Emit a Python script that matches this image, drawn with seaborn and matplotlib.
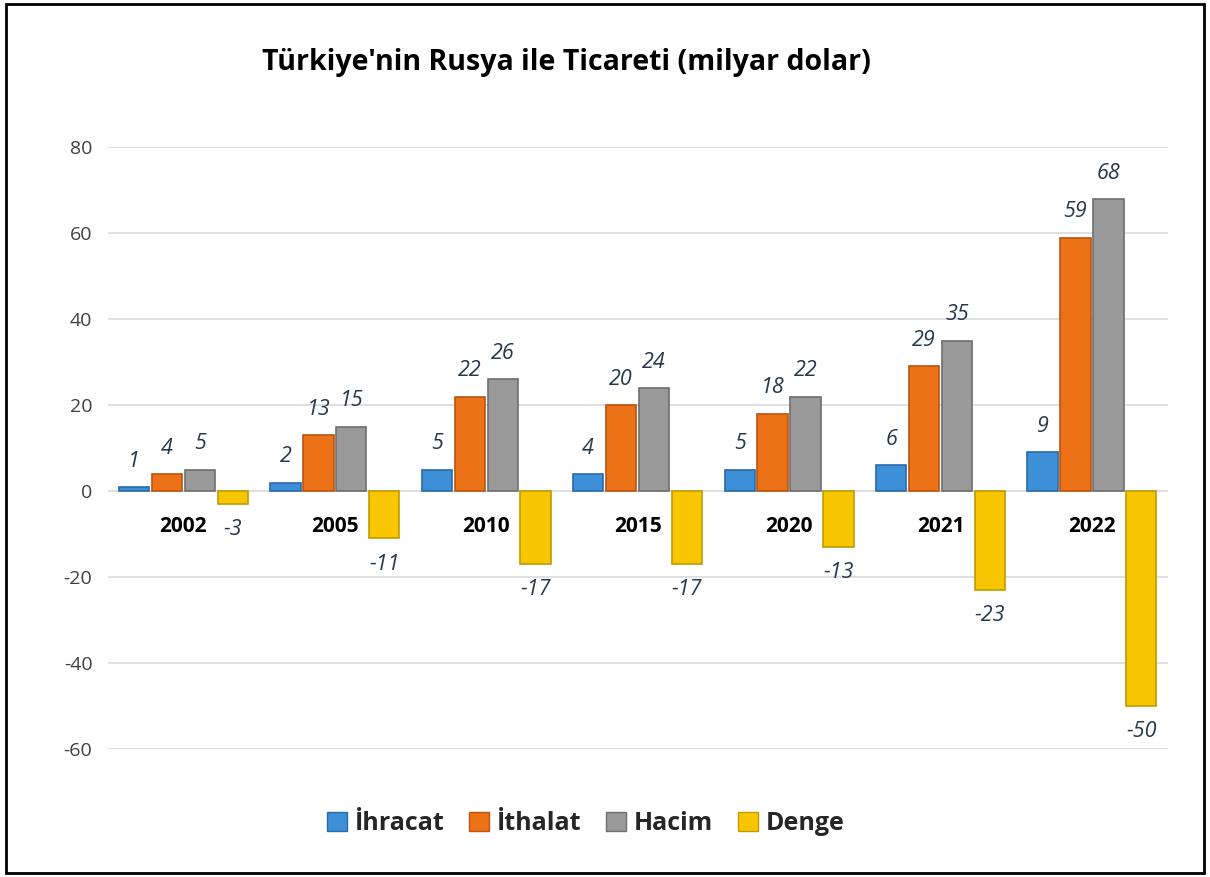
import numpy as np
import pandas as pd
import matplotlib.pyplot as plt
import seaborn as sns
from matplotlib.patches import Rectangle

sns.set_theme(style='white')
plt.rcParams['font.family'] = ['Open Sans', 'DejaVu Sans']
plt.rcParams['axes.unicode_minus'] = False

years = ['2002', '2005', '2010', '2015', '2020', '2021', '2022']
series = ['İhracat', 'İthalat', 'Hacim', 'Denge']
ihracat = [1, 2, 5, 4, 5, 6, 9]
ithalat = [4, 13, 22, 20, 18, 29, 59]
hacim = [5, 15, 26, 24, 22, 35, 68]
denge = [-3, -11, -17, -17, -13, -23, -50]
colors = ['#3d8fd8', '#ec7117', '#9a9a9a', '#f7c600']
edges = ['#2a6aa8', '#b9550f', '#6e6e6e', '#c09a00']

df = pd.DataFrame({
    'year': years * 4,
    'series': np.repeat(series, len(years)),
    'value': ihracat + ithalat + hacim + denge,
})

fig = plt.figure(figsize=(12.1, 8.77), dpi=100)
ax = fig.add_axes([0.089, 0.146, 0.876, 0.686])

sns.barplot(data=df, x='year', y='value', hue='series', hue_order=series,
            palette=colors, saturation=1, width=0.87, gap=0.08, ax=ax, legend=False)

for cont, ec in zip(ax.containers, edges):
    for bar in cont:
        bar.set_edgecolor(ec)
        bar.set_linewidth(1.2)
    ax.bar_label(cont, padding=11, fontsize=15.5, fontstyle='italic', color='#27384a')

ax.set_ylim(-60, 80)
ax.set_yticks(np.arange(-60, 81, 20))
ax.set_xlim(-0.5, len(years) - 0.5)
ax.yaxis.grid(True, color='#d9d9d9', linewidth=1.2)
ax.set_axisbelow(True)
sns.despine(ax=ax, left=True, bottom=True)
ax.set_xlabel('')
ax.set_ylabel('')
ax.set_xticks([])
ax.tick_params(axis='y', labelsize=14, colors='#404040', pad=11, length=0)

# year labels under the zero line
for i, y in enumerate(years):
    ax.text(i, -8.3, y, ha='center', va='center', fontsize=15,
            fontweight='bold', color='black')

fig.text(0.468, 0.929, "Türkiye'nin Rusya ile Ticareti (milyar dolar)",
         ha='center', va='center', fontsize=20.5, fontweight='bold', color='black')

handles = [Rectangle((0, 0), 1, 1, facecolor=c, edgecolor=e) for c, e in zip(colors, edges)]
fig.legend(handles, series, loc='center', bbox_to_anchor=(0.484, 0.061), ncol=4,
           frameon=False, handlelength=0.8, handleheight=0.8, handletextpad=0.3,
           columnspacing=1.0, prop={'size': 18, 'weight': 'bold'})

fig.patches.append(Rectangle((0.005, 0.004), 0.99, 0.992, transform=fig.transFigure,
                             fill=False, edgecolor='black', linewidth=2))

plt.savefig('out.png', dpi=100)
